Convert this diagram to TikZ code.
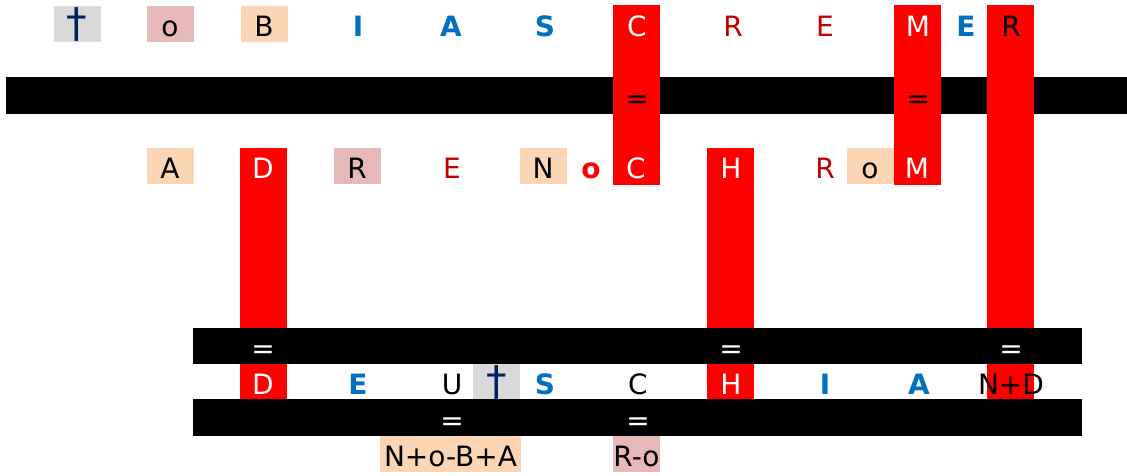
\documentclass[tikz,border=0pt]{standalone}
\usepackage{fontspec}
\setmainfont{DejaVu Sans}
\definecolor{darkred}{HTML}{C00000}
\definecolor{letterblue}{HTML}{0070C0}
\definecolor{peach}{HTML}{FCD5B4}
\definecolor{rose}{HTML}{E6B9B8}
\definecolor{greybox}{HTML}{D9D9D9}
\definecolor{navy}{HTML}{002060}
\begin{document}
\begin{tikzpicture}[x=1pt,y=-1pt,
  cell/.style={minimum width=47pt,minimum height=36pt,inner sep=0pt,
    text height=25pt,text depth=0pt,font=\fontsize{28}{30}\selectfont},
  bl/.style={cell,text=letterblue,font=\fontsize{28}{30}\selectfont\bfseries},
  dr/.style={cell,text=darkred},
  wt/.style={cell,text=white},
  dagger/.style={cell,fill=greybox,text=navy,text height=28pt,
    font=\fontsize{41}{44}\selectfont}]

  \useasboundingbox (0,0) rectangle (1127,475);

  % bars and columns
  \fill (6,77) rectangle (1127,114);
  \fill[red] (613,5) rectangle (660,185);
  \fill[red] (894,5) rectangle (941,185);
  \fill[red] (987,5) rectangle (1034,399);
  \fill[red] (240,148) rectangle (287,399);
  \fill[red] (707,148) rectangle (754,399);
  \fill (193,328) rectangle (1082,364);
  \fill (193,399) rectangle (1082,436);

  % top row
  \node[dagger] (t1) at (77,23.5) {†};
  \node[cell,fill=rose] (t2) at (170,23.5) {o};
  \node[cell,fill=peach] (t3) at (264,23.5) {B};
  \node[bl] (t4) at (358,23.5) {I};
  \node[bl] (t5) at (451,23.5) {A};
  \node[bl] (t6) at (545,23.5) {S};
  \node[wt] (t7) at (637,23.5) {C};
  \node[dr] (t8) at (733,23.5) {R};
  \node[dr] (t9) at (825,23.5) {E};
  \node[wt] (t10) at (918,23.5) {M};
  \node[bl,minimum width=20pt] (t11) at (966,23.5) {E};
  \node[cell] (t12) at (1011,23.5) {R};

  \node[cell] (e1) at (637,95.5) {=};
  \node[cell] (e2) at (918,95.5) {=};

  % middle row
  \node[cell,fill=peach] (m1) at (170,166) {A};
  \node[wt] (m2) at (263,166) {D};
  \node[cell,fill=rose] (m3) at (357,166) {R};
  \node[dr] (m4) at (452,166) {E};
  \node[cell,fill=peach] (m5) at (543,166) {N};
  \node[cell,minimum width=20pt,text=red,font=\fontsize{28}{30}\selectfont\bfseries] (m6) at (591,166) {o};
  \node[wt] (m7) at (636,166) {C};
  \node[wt] (m8) at (731,166) {H};
  \node[dr] (m9) at (825,166) {R};
  \node[cell,fill=peach] (m10) at (870,166) {o};
  \node[wt] (m11) at (917,166) {M};

  \node[wt] (e3) at (263,346) {=};
  \node[wt] (e4) at (731,346) {=};
  \node[wt] (e5) at (1011,346) {=};

  % bottom row
  \node[wt] (b1) at (263,381.5) {D};
  \node[bl] (b2) at (358,381.5) {E};
  \node[cell] (b3) at (452,381.5) {U};
  \node[dagger,minimum height=35pt] (b4) at (496.5,381.5) {†};
  \node[bl] (b5) at (545,381.5) {S};
  \node[cell] (b6) at (638,381.5) {C};
  \node[wt] (b7) at (731,381.5) {H};
  \node[bl] (b8) at (825,381.5) {I};
  \node[bl] (b9) at (919,381.5) {A};
  \node[cell] (b10) at (1011,381.5) {N+D};

  \node[wt] (e6) at (452,417.5) {=};
  \node[wt] (e7) at (638,417.5) {=};

  \node[cell,fill=peach,minimum width=141pt] (s1) at (450.5,454) {N+o-B+A};
  \node[cell,fill=rose] (s2) at (636.5,454) {R-o};
\end{tikzpicture}
\end{document}
